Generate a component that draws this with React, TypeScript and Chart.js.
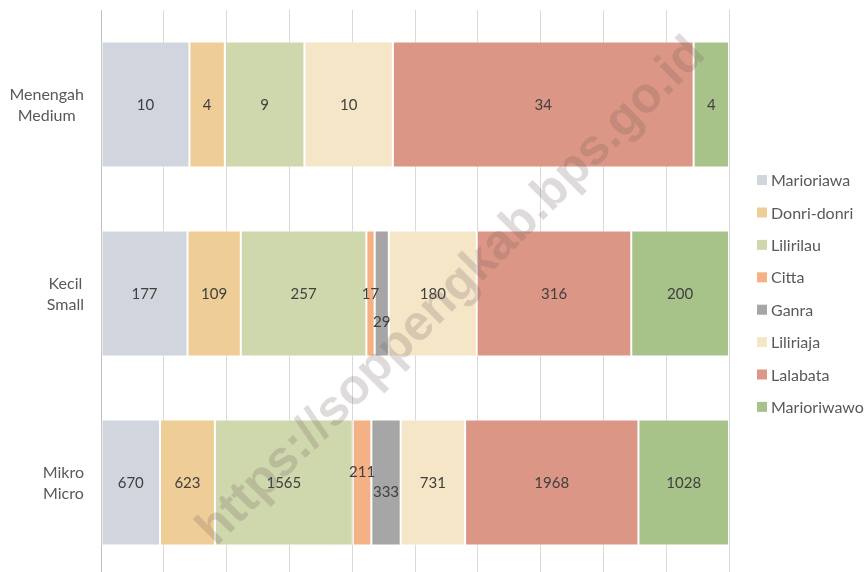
import React, { useEffect, useRef } from "react";
import { Chart, registerables } from "chart.js";

Chart.register(...registerables);

const categoryLines: string[][] = [
  ["Menengah", "Medium"],
  ["Kecil", "Small"],
  ["Mikro", "Micro"],
];
const seriesNames = [
  "Marioriawa",
  "Donri-donri",
  "Lilirilau",
  "Citta",
  "Ganra",
  "Liliriaja",
  "Lalabata",
  "Marioriwawo",
];
const seriesColors = [
  "#d0d5de",
  "#efcd97",
  "#cfd7ac",
  "#f4b183",
  "#a6a6a6",
  "#f6e6c8",
  "#dc9685",
  "#a8c38a",
];
const marioriawa = [10, 177, 670];
const donriDonri = [4, 109, 623];
const lilirilau = [9, 257, 1565];
const citta = [0, 17, 211];
const ganra = [0, 29, 333];
const liliriaja = [10, 180, 731];
const lalabata = [34, 316, 1968];
const marioriwawo = [4, 200, 1028];
const xTicks = [0, 10, 20, 30, 40, 50, 60, 70, 80, 90, 100];

const seriesValues = [marioriawa, donriDonri, lilirilau, citta, ganra, liliriaja, lalabata, marioriwawo];

const labelOffsets: Record<string, number> = {
  "4-1": 28,
  "3-2": -11,
  "4-2": 9,
};

const FONT = "Lato, 'Noto Sans', sans-serif";

export default function App() {
  const ref = useRef<HTMLCanvasElement | null>(null);
  useEffect(() => {
    document.body.style.margin = "0";
    document.body.style.overflow = "hidden";
    const totals = categoryLines.map((_, i) => seriesValues.reduce((s, arr) => s + arr[i], 0));
    const datasets = seriesNames.map((name, k) => ({
      label: name,
      data: seriesValues[k].map((v, i) => (v / totals[i]) * 100),
      raw: seriesValues[k],
      backgroundColor: seriesColors[k],
      borderColor: "rgba(255,255,255,0.6)",
      borderWidth: 1,
      borderSkipped: false,
      barPercentage: 0.667,
      categoryPercentage: 1,
    }));

    const valuePlugin = {
      id: "valueLabels",
      afterDatasetsDraw(chart: any) {
        const ctx = chart.ctx;
        ctx.save();
        ctx.font = `15px ${FONT}`;
        ctx.fillStyle = "#404040";
        ctx.textAlign = "center";
        ctx.textBaseline = "middle";
        chart.data.datasets.forEach((ds: any, k: number) => {
          const meta = chart.getDatasetMeta(k);
          meta.data.forEach((el: any, i: number) => {
            const v = ds.raw[i];
            if (!v) return;
            const x = (el.x + el.base) / 2;
            const y = el.y + 1 + (labelOffsets[`${k}-${i}`] || 0);
            ctx.fillText(String(v), x, y);
          });
        });
        ctx.restore();
      },
      afterDraw(chart: any) {
        const ctx = chart.ctx;
        const y = chart.scales.y;
        // category labels
        ctx.save();
        ctx.font = `16px ${FONT}`;
        ctx.fillStyle = "#595959";
        ctx.textAlign = "center";
        ctx.textBaseline = "middle";
        categoryLines.forEach((lines, i) => {
          const cy = y.getPixelForValue(i) + 1;
          const w = Math.max(...lines.map((l) => ctx.measureText(l).width));
          const cx = 84 - w / 2;
          const lh = 21.5;
          lines.forEach((l, j) => {
            ctx.fillText(l, cx, cy + (j - (lines.length - 1) / 2) * lh);
          });
        });
        ctx.restore();

        // legend
        ctx.save();
        ctx.font = `16px ${FONT}`;
        ctx.textBaseline = "middle";
        ctx.textAlign = "left";
        const area = chart.chartArea;
        const mid = (area.top + area.bottom) / 2;
        const step = 32.4;
        seriesNames.forEach((name, k) => {
          const cy = mid + (k - (seriesNames.length - 1) / 2) * step;
          ctx.fillStyle = seriesColors[k];
          ctx.fillRect(757, cy - 5, 10, 10);
          ctx.fillStyle = "#595959";
          ctx.fillText(name, 771, cy + 1);
        });
        ctx.restore();

        // watermark
        ctx.save();
        const text = "https://soppengkab.bps.go.id";
        ctx.font = `bold 100px 'Liberation Sans', Arial, sans-serif`;
        const w100 = ctx.measureText(text).width;
        const size = (695 / w100) * 100;
        ctx.font = `bold ${size}px 'Liberation Sans', Arial, sans-serif`;
        ctx.translate(452, 292);
        ctx.rotate(-Math.PI / 4);
        ctx.textAlign = "center";
        ctx.textBaseline = "middle";
        ctx.fillStyle = "rgba(110,90,90,0.22)";
        ctx.fillText(text, 0, 0);
        ctx.restore();
      },
    };

    const chart = new Chart(ref.current as HTMLCanvasElement, {
      type: "bar",
      data: { labels: categoryLines.map((l) => l.join(" ")), datasets: datasets as any },
      options: {
        indexAxis: "y",
        animation: false,
        responsive: false,
        maintainAspectRatio: false,
        layout: { padding: { left: 101, right: 138, top: 10, bottom: 0 } },
        plugins: { legend: { display: false }, tooltip: { enabled: false } },
        scales: {
          x: {
            stacked: true,
            min: 0,
            max: 100,
            afterBuildTicks: (axis: any) => {
              axis.ticks = xTicks.map((v) => ({ value: v }));
            },
            ticks: { display: false },
            grid: { color: "#d9d9d9", lineWidth: 1, drawTicks: false },
            border: { display: false },
          },
          y: {
            stacked: true,
            ticks: { display: false },
            grid: { display: false, drawTicks: false },
            border: { display: true, color: "#bfbfbf", width: 1 },
          },
        },
      },
      plugins: [valuePlugin],
    });
    return () => chart.destroy();
  }, []);
  return (
    <div style={{ position: "fixed", left: 0, top: 0, width: 867, height: 577 }}>
      <canvas ref={ref} width={867} height={577} style={{ width: 867, height: 577, display: "block" }} />
    </div>
  );
}
